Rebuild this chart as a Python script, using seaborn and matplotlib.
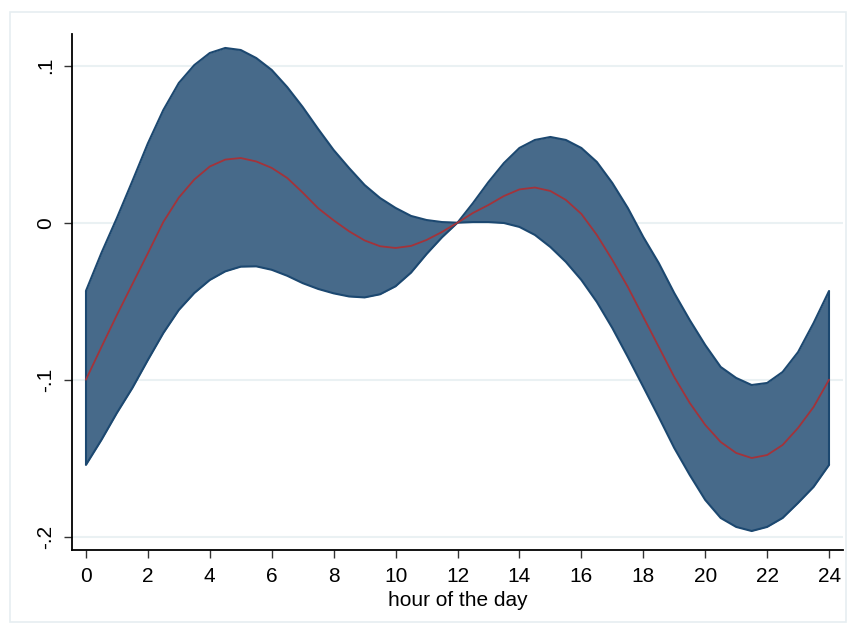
import numpy as np
import pandas as pd
import matplotlib
matplotlib.use("Agg")
import matplotlib.pyplot as plt
import seaborn as sns

# hour of the day, half-hour steps
hours = [i / 2 for i in range(49)]

upper = [-0.0435, -0.0193, 0.0030, 0.0265, 0.0505, 0.0718, 0.0890, 0.1004, 0.1081, 0.1113,
         0.1100, 0.1049, 0.0973, 0.0864, 0.0737, 0.0597, 0.0463, 0.0348, 0.0240, 0.0157,
         0.0094, 0.0043, 0.0017, 0.0004, 0.0000, 0.0125, 0.0259, 0.0380, 0.0476, 0.0527,
         0.0546, 0.0527, 0.0476, 0.0387, 0.0253, 0.0094, -0.0091, -0.0257, -0.0448, -0.0620,
         -0.0779, -0.0919, -0.0989, -0.1034, -0.1021, -0.0951, -0.0824, -0.0639, -0.0435]

lower = [-0.1543, -0.1384, -0.1212, -0.1053, -0.0875, -0.0703, -0.0556, -0.0448, -0.0365, -0.0310,
         -0.0280, -0.0278, -0.0300, -0.0338, -0.0385, -0.0422, -0.0450, -0.0470, -0.0476, -0.0456,
         -0.0405, -0.0318, -0.0200, -0.0093, 0.0000, 0.0004, 0.0004, -0.0002, -0.0027, -0.0078,
         -0.0155, -0.0250, -0.0365, -0.0505, -0.0671, -0.0855, -0.1046, -0.1238, -0.1435, -0.1607,
         -0.1766, -0.1881, -0.1938, -0.1964, -0.1938, -0.1881, -0.1785, -0.1683, -0.1543]

effect = [-0.1000, -0.0792, -0.0588, -0.0391, -0.0195, 0.0005, 0.0160, 0.0275, 0.0358, 0.0402,
          0.0412, 0.0390, 0.0349, 0.0285, 0.0192, 0.0092, 0.0015, -0.0055, -0.0113, -0.0150,
          -0.0161, -0.0148, -0.0110, -0.0059, 0.0000, 0.0062, 0.0113, 0.0170, 0.0212, 0.0224,
          0.0202, 0.0145, 0.0056, -0.0078, -0.0237, -0.0409, -0.0600, -0.0791, -0.0983, -0.1148,
          -0.1288, -0.1397, -0.1467, -0.1499, -0.1480, -0.1416, -0.1307, -0.1174, -0.1000]

x_ticks = list(range(0, 25, 2))
y_ticks = [-0.2, -0.1, 0.0, 0.1]
y_tick_labels = ["-.2", "-.1", "0", ".1"]

df = pd.DataFrame({"hour": hours, "upper": upper, "lower": lower, "effect": effect})

sns.set_style("white")
plt.rcParams["font.family"] = ["Liberation Sans", "DejaVu Sans"]
plt.rcParams["text.color"] = "black"
plt.rcParams["axes.labelcolor"] = "black"
plt.rcParams["xtick.color"] = "black"
plt.rcParams["ytick.color"] = "black"

fig = plt.figure(figsize=(8.5, 6.26), dpi=100)
# light outer frame like the Stata graph region
fig.patches.append(plt.Rectangle((10 / 850, 1 - 622 / 626), 836 / 850, 610 / 626,
                                 transform=fig.transFigure, fill=False,
                                 edgecolor="#e6eef1", linewidth=1.2))
ax = fig.add_axes([72 / 850, 1 - 550 / 626, (843 - 72) / 850, (550 - 34) / 626])

ax.fill_between(df["hour"], df["lower"], df["upper"], color="#476a8a", linewidth=0, zorder=2)
sns.lineplot(data=df, x="hour", y="upper", ax=ax, color="#1c4870", linewidth=1.5, zorder=3)
sns.lineplot(data=df, x="hour", y="lower", ax=ax, color="#1c4870", linewidth=1.5, zorder=3)
ax.vlines([hours[0], hours[-1]], [lower[0], lower[-1]], [upper[0], upper[-1]],
          color="#1c4870", linewidth=1.5, zorder=3)
sns.lineplot(data=df, x="hour", y="effect", ax=ax, color="#a3333a", linewidth=1.3, zorder=4)

ax.set_xlim(-0.45, 24.45)
ax.set_ylim(-0.2085, 0.1202)
ax.set_xticks(x_ticks)
ax.set_yticks(y_ticks)
ax.set_yticklabels(y_tick_labels, rotation=90, va="center")
ax.set_xlabel("hour of the day", fontsize=15, labelpad=4)
ax.set_ylabel("")

ax.set_axisbelow(True)
ax.grid(axis="y", color="#eaf1f3", linewidth=1.5)
ax.grid(axis="x", visible=False)

for side in ["top", "right"]:
    ax.spines[side].set_visible(False)
for side in ["left", "bottom"]:
    ax.spines[side].set_color("black")
    ax.spines[side].set_linewidth(1.3)

ax.tick_params(axis="both", direction="out", length=6, width=1, color="#333333",
               labelsize=15, pad=6, left=True, bottom=True)

fig.savefig("out.png", dpi=100)
